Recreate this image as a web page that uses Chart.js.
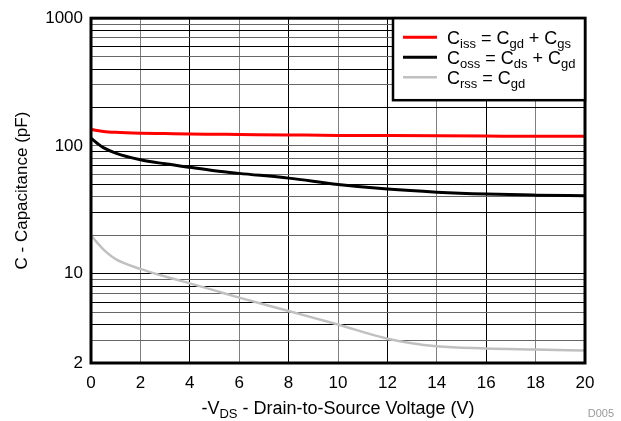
<!DOCTYPE html>
<html>
<head>
<meta charset="utf-8">
<script src="https://cdn.jsdelivr.net/npm/chart.js@4.4.0/dist/chart.umd.min.js"></script>
<style>
  body { margin: 0; background: #fff; }
  canvas { display: block; }
</style>
</head>
<body>
<canvas id="grafico" width="621" height="421"></canvas>
<script>
// Valores (pF)
const vds  = [0, 0.25, 0.5, 1, 2, 3, 4, 5, 6, 8, 10, 12, 14, 16, 18, 20];
const ciss = [135, 132, 130, 128, 126, 125, 124, 123.5, 123, 122, 121, 120.5, 120, 119.5, 119, 119];
const coss = [115, 105, 97, 88, 78, 72.5, 68, 64, 61, 56, 50, 46, 43.5, 42, 41.2, 40.7];
const crss = [20, 17.5, 15.5, 13, 10.9, 9.5, 8.4, 7.4, 6.5, 5.1, 4.0, 3.1, 2.7, 2.6, 2.55, 2.5];

const yTicks = [2, 3, 4, 5, 6, 7, 8, 9, 10, 20, 30, 40, 50, 60, 70, 80, 90, 100,
                200, 300, 400, 500, 600, 700, 800, 900, 1000];
const yLabels = [2, 10, 100, 1000];

// Legenda com subscritos: [texto, subscrito?]
const legendParts = [
    [['C', 0], ['iss', 1], [' = C', 0], ['gd', 1], [' + C', 0], ['gs', 1]],
    [['C', 0], ['oss', 1], [' = C', 0], ['ds', 1], [' + C', 0], ['gd', 1]],
    [['C', 0], ['rss', 1], [' = C', 0], ['gd', 1]]
];
const xTitleParts = [['-V', 0], ['DS', 1], [' - Drain-to-Source Voltage (V)', 0]];

const FONT = "'Liberation Sans', Arial, sans-serif";
Chart.defaults.font.family = FONT;
Chart.defaults.color = '#000';

function pts(ys) {
    return vds.map((x, i) => ({ x: x, y: ys[i] }));
}

function richWidth(ctx, parts, size, subSize) {
    let w = 0;
    parts.forEach(p => {
        ctx.font = (p[1] ? subSize : size) + 'px ' + FONT;
        w += ctx.measureText(p[0]).width;
    });
    return w;
}

function drawRich(ctx, parts, x, y, size, subSize, drop) {
    ctx.textBaseline = 'alphabetic';
    ctx.textAlign = 'left';
    parts.forEach(p => {
        ctx.font = (p[1] ? subSize : size) + 'px ' + FONT;
        ctx.fillText(p[0], x, p[1] ? y + drop : y);
        x += ctx.measureText(p[0]).width;
    });
}

const extras = {
    id: 'extras',
    afterDraw(chart) {
        const ctx = chart.ctx;
        const a = chart.chartArea;
        ctx.save();
        // moldura do gráfico
        ctx.strokeStyle = '#000';
        ctx.lineWidth = 3;
        ctx.strokeRect(a.left, a.top, a.right - a.left, a.bottom - a.top);

        // legenda
        const bx = 393, by = a.top, bw = a.right - bx, bh = 82;
        ctx.fillStyle = '#fff';
        ctx.fillRect(bx, by, bw, bh);
        ctx.lineWidth = 2.5;
        ctx.strokeRect(bx, by, bw, bh);
        chart.data.datasets.forEach((ds, i) => {
            const yy = by + 19 + i * 20;
            ctx.strokeStyle = ds.borderColor;
            ctx.lineWidth = ds.borderWidth;
            ctx.beginPath();
            ctx.moveTo(403, yy);
            ctx.lineTo(437, yy);
            ctx.stroke();
            ctx.fillStyle = '#000';
            drawRich(ctx, legendParts[i], 447, yy + 6.5, 18, 13, 4);
        });

        // título do eixo x
        const w = richWidth(ctx, xTitleParts, 18, 13);
        ctx.fillStyle = '#000';
        drawRich(ctx, xTitleParts, (a.left + a.right) / 2 - w / 2, 414, 18, 13, 4);

        // código da figura
        ctx.font = '11px ' + FONT;
        ctx.fillStyle = '#999';
        ctx.textAlign = 'right';
        ctx.fillText('D005', 614, 417);
        ctx.restore();
    }
};

const ctx = document.getElementById('grafico').getContext('2d');
new Chart(ctx, {
    type: 'line',
    data: {
        datasets: [
            { label: 'Ciss = Cgd + Cgs', data: pts(ciss), borderColor: '#ff0000', borderWidth: 3 },
            { label: 'Coss = Cds + Cgd', data: pts(coss), borderColor: '#000000', borderWidth: 3 },
            { label: 'Crss = Cgd', data: pts(crss), borderColor: '#c0c0c0', borderWidth: 2.5 }
        ]
    },
    options: {
        responsive: false,
        animation: false,
        elements: {
            point: { radius: 0 },
            line: { cubicInterpolationMode: 'monotone', fill: false }
        },
        layout: { padding: { top: 14, right: 36, bottom: 0, left: 0 } },
        plugins: {
            legend: { display: false },
            tooltip: { enabled: false }
        },
        scales: {
            x: {
                type: 'linear',
                min: 0,
                max: 20,
                ticks: { stepSize: 2, font: { size: 17 }, color: '#000', padding: 10, maxRotation: 0 },
                grid: {
                    drawTicks: false,
                    lineWidth: 1,
                    color: c => (c.tick.value % 4 === 0) ? '#000' : '#808080'
                },
                border: { display: false },
                afterFit: s => { s.height = 58; }
            },
            y: {
                type: 'logarithmic',
                min: 2,
                max: 1000,
                afterBuildTicks: s => { s.ticks = yTicks.map(v => ({ value: v })); },
                ticks: {
                    autoSkip: false,
                    font: { size: 17 },
                    color: '#000',
                    padding: 8,
                    callback: v => yLabels.includes(v) ? String(v) : ''
                },
                grid: {
                    drawTicks: false,
                    lineWidth: 1,
                    color: c => (c.index % 2 === 0) ? '#000' : '#666'
                },
                border: { display: false },
                title: {
                    display: true,
                    text: 'C - Capacitance (pF)',
                    font: { size: 17 },
                    color: '#000',
                    padding: { top: 12, bottom: 0 }
                },
                afterFit: s => { s.width = 91; }
            }
        }
    },
    plugins: [extras]
});
</script>
</body>
</html>
